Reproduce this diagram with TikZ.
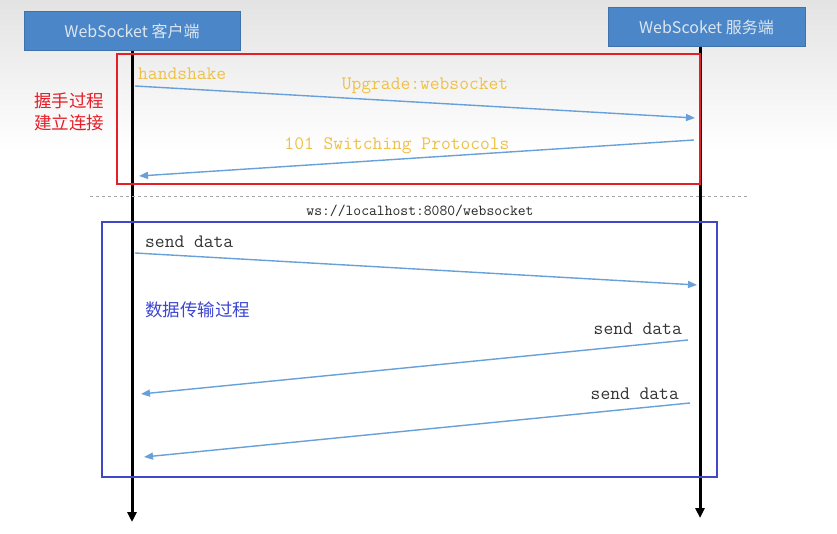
\documentclass[tikz,border=0pt]{standalone}
\usepackage{fontspec}
\newfontfamily\cjk{Noto Sans CJK SC}
\usetikzlibrary{arrows.meta}
\definecolor{hdrblue}{RGB}{74,134,200}
\definecolor{hdrtext}{RGB}{220,230,240}
\definecolor{msgblue}{RGB}{104,160,218}
\definecolor{hsyellow}{RGB}{240,192,70}
\definecolor{frred}{RGB}{230,30,40}
\definecolor{frblue}{RGB}{64,72,200}
\definecolor{txtblue}{RGB}{60,70,210}
\tikzset{
  actor/.style={draw=hdrblue!85!black,fill=hdrblue,text=hdrtext,inner sep=0,
    minimum height=39,font=\cjk\fontsize{16}{19}\selectfont},
  lifeline/.style={line width=3pt,-{Triangle[length=10pt,width=9pt]}},
  msg/.style={msgblue,line width=1.4pt,-{Triangle[length=9pt,width=7pt]}},
  hslabel/.style={text=hsyellow,font=\ttfamily\fontsize{19}{21}\selectfont,inner sep=0},
  datalabel/.style={text=black!80,font=\ttfamily\fontsize{19}{21}\selectfont,inner sep=0},
  note/.style={font=\cjk\fontsize{17.5}{22}\selectfont,inner sep=0,align=left},
  frame/.style={line width=2pt}
}
\begin{document}
\begin{tikzpicture}[x=1pt,y=-1pt]
\useasboundingbox (0,0) rectangle (837,534);
\fill[white] (0,0) rectangle (837,534);
\shade[top color=black!11,bottom color=white] (0,0) rectangle (837,150);
\node[actor,minimum width=216] (client) at (132,31) {WebSocket 客户端};
\node[actor,minimum width=197] (server) at (706.5,27) {WebScoket 服务端};
\coordinate (stop) at (700,47);
\coordinate (cend) at (132,522);
\coordinate (send) at (700,518);
\draw[lifeline] (client.south) -- (cend);
\draw[lifeline] (stop) -- (send);
\coordinate (c1) at (135,86);
\coordinate (s1) at (695,118);
\coordinate (s2) at (694,140);
\coordinate (c2) at (139,176);
\coordinate (c3) at (135,253);
\coordinate (s3) at (697,285);
\coordinate (s4) at (688,340);
\coordinate (c4) at (141,394);
\coordinate (s5) at (690,403);
\coordinate (c5) at (144,457);
\draw[frame,frred] (117,54) rectangle (700,184);
\node[note,text=frred] (hsnote) at (69,112) {握手过程\\建立连接};
\node[hslabel,anchor=west] (hs) at (138,74) {handshake};
\node[hslabel] (upg) at (425,86) {Upgrade:websocket};
\node[hslabel] (sw) at (397,146) {101 Switching Protocols};
\draw[msg] (c1) -- (s1);
\draw[msg] (s2) -- (c2);
\draw[black!35,dashed,line width=0.8pt] (90,196) -- (750,196);
\node[text=black!85,font=\ttfamily\fontsize{15.2}{17}\selectfont,inner sep=0] (url) at (420,211) {ws://localhost:8080/websocket};
\draw[frame,frblue] (102,222) rectangle (717,477);
\node[datalabel,anchor=west] (d1) at (145,242) {send data};
\node[note,text=txtblue,anchor=west] (datanote) at (145,310) {数据传输过程};
\node[datalabel,anchor=east] (d2) at (682,329) {send data};
\node[datalabel,anchor=east] (d3) at (679,394) {send data};
\draw[msg] (c3) -- (s3);
\draw[msg] (s4) -- (c4);
\draw[msg] (s5) -- (c5);
\end{tikzpicture}
\end{document}
